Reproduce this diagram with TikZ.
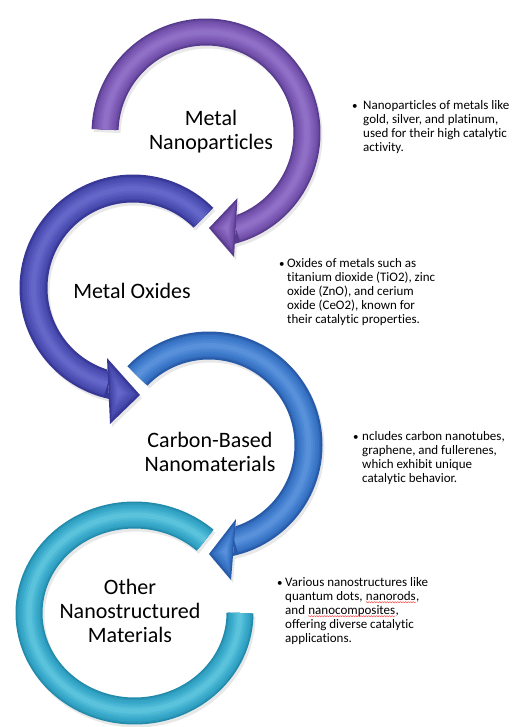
\documentclass[tikz,border=0pt]{standalone}
\usepackage{fontspec}
\setmainfont{Carlito}[Ligatures={NoCommon}]
\usetikzlibrary{decorations.pathmorphing}
\definecolor{pA}{HTML}{583A8E}
\definecolor{pB}{HTML}{7A58B4}
\definecolor{pC}{HTML}{9070C6}
\definecolor{iA}{HTML}{363796}
\definecolor{iB}{HTML}{4F51B6}
\definecolor{iC}{HTML}{6567C8}
\definecolor{bA}{HTML}{275AA8}
\definecolor{bB}{HTML}{3D7ACB}
\definecolor{bC}{HTML}{5891DA}
\definecolor{cA}{HTML}{228BAC}
\definecolor{cB}{HTML}{39AACB}
\definecolor{cC}{HTML}{5BC2DC}
\tikzset{
  lbl/.style={font=\fontsize{22}{24}\selectfont, align=center, inner sep=0pt, text=black},
  txt/.style={font=\fontsize{13}{14.3}\selectfont, inner sep=0pt, anchor=base west, text=black},
  bul/.style={font=\fontsize{11}{14}\selectfont, inner sep=0pt, anchor=base west, text=black},
  shd/.style={fill=black, opacity=0.09},
  wavy/.style={draw=red!75, line width=0.45pt, decorate, decoration={snake, amplitude=0.6pt, segment length=2.6pt}},
}
\begin{document}
\begin{tikzpicture}[x=1pt,y=-1pt]
\useasboundingbox (0,0) rectangle (512,727);
\fill[white] (0,0) rectangle (512,727);

% ---------- shadows ----------
\begin{scope}[shift={(2,3)}]
\fill[shd] plot[domain=182:435.5, samples=100] ({206+114.5*cos(\x)},{133+114.5*sin(\x)})
  -- plot[domain=429.6:182, samples=100] ({206+87.5*cos(\x)},{133+87.5*sin(\x)}) -- cycle;
\fill[shd] (237.5,198) -- (209,228) -- (234,257) -- cycle;
\fill[shd] plot[domain=-45:-257.8, samples=100] ({133+113.5*cos(\x)},{288+113.5*sin(\x)})
  -- plot[domain=-252.7:-45, samples=100] ({133+85.5*cos(\x)},{288+85.5*sin(\x)}) -- cycle;
\fill[shd] (107,358) -- (140,395) -- (110,424) -- cycle;
\fill[shd] plot[domain=-136:77.8, samples=100] ({209+113.5*cos(\x)},{445+113.5*sin(\x)})
  -- plot[domain=72:-136, samples=100] ({209+85.5*cos(\x)},{445+85.5*sin(\x)}) -- cycle;
\fill[shd] (236,519) -- (209,554) -- (231,580) -- cycle;
\draw[black, opacity=0.09, line width=27pt] plot[domain=-48:-360, samples=120] ({134.5+105.5*cos(\x)},{613+98*sin(\x)});
\end{scope}

% ---------- ring 4 : cyan ----------
\foreach \w/\c in {27/cA, 24/cB!45!cA, 21/cB!80!cA, 17/cB, 13/cC!35!cB, 9/cC!65!cB, 5/cC}
  \draw[color=\c, line width=\w pt] plot[domain=-48:-360, samples=120] ({134.5+105.5*cos(\x)},{613+98*sin(\x)});

% ---------- ring 3 : blue ----------
\fill[bA] plot[domain=-136:77.8, samples=100] ({209+113.5*cos(\x)},{445+113.5*sin(\x)})
  -- plot[domain=72:-136, samples=100] ({209+85.5*cos(\x)},{445+85.5*sin(\x)}) -- cycle;
\foreach \w/\c in {24/bB!45!bA, 21/bB!80!bA, 17/bB, 13/bC!35!bB, 9/bC!65!bB, 5/bC}
  \draw[color=\c, line width=\w pt] plot[domain=-136:75, samples=100] ({209+99.5*cos(\x)},{445+99.5*sin(\x)});
\foreach \s/\c in {1/bA, 0.86/bB!45!bA, 0.74/bB!80!bA, 0.6/bB, 0.46/bC!35!bB, 0.32/bC!65!bB, 0.18/bC}
  \fill[color=\c, scale around={\s:(225.33,551)}] (236,519) -- (209,554) -- (231,580) -- cycle;

% ---------- ring 2 : indigo ----------
\fill[iA] plot[domain=-45:-257.8, samples=100] ({133+113.5*cos(\x)},{288+113.5*sin(\x)})
  -- plot[domain=-252.7:-45, samples=100] ({133+85.5*cos(\x)},{288+85.5*sin(\x)}) -- cycle;
\foreach \w/\c in {24/iB!45!iA, 21/iB!80!iA, 17/iB, 13/iC!35!iB, 9/iC!65!iB, 5/iC}
  \draw[color=\c, line width=\w pt] plot[domain=-45:-255, samples=100] ({133+99.5*cos(\x)},{288+99.5*sin(\x)});
\foreach \s/\c in {1/iA, 0.86/iB!45!iA, 0.74/iB!80!iA, 0.6/iB, 0.46/iC!35!iB, 0.32/iC!65!iB, 0.18/iC}
  \fill[color=\c, scale around={\s:(119,392.33)}] (107,358) -- (140,395) -- (110,424) -- cycle;

% ---------- ring 1 : purple ----------
\fill[pA] plot[domain=182:435.5, samples=100] ({206+114.5*cos(\x)},{133+114.5*sin(\x)})
  -- plot[domain=429.6:182, samples=100] ({206+87.5*cos(\x)},{133+87.5*sin(\x)}) -- cycle;
\foreach \w/\c in {24/pB!45!pA, 21/pB!80!pA, 17/pB, 13/pC!35!pB, 9/pC!65!pB, 5/pC}
  \draw[color=\c, line width=\w pt] plot[domain=182:432.5, samples=100] ({206+101*cos(\x)},{133+101*sin(\x)});
\foreach \s/\c in {1/pA, 0.86/pB!45!pA, 0.74/pB!80!pA, 0.6/pB, 0.46/pC!35!pB, 0.32/pC!65!pB, 0.18/pC}
  \fill[color=\c, scale around={\s:(226.83,227.67)}] (237.5,198) -- (209,228) -- (234,257) -- cycle;

% ---------- ring labels ----------
\node[lbl] (l1) at (211,132) {Metal\\Nanoparticles};
\node[lbl] (l2) at (132,291) {Metal Oxides};
\node[lbl] (l3) at (210,452) {Carbon-Based\\Nanomaterials};
\node[lbl] (l4) at (130,611) {Other\\Nanostructured\\Materials};

% ---------- block 1 ----------
\node[bul] (b1) at (352,110) {\textbullet};
\node[txt] (t1a) at (363,110) {Nanoparticles of metals like};
\node[txt] (t1b) at (363,124) {gold, silver, and platinum,};
\node[txt] (t1c) at (363,138) {used for their high catalytic};
\node[txt] (t1d) at (363,152) {activity.};

% ---------- block 2 ----------
\node[bul] (b2) at (279,267) {\textbullet};
\node[txt] (t2a) at (287,267) {Oxides of metals such as};
\node[txt] (t2b) at (287,281) {titanium dioxide (TiO2), zinc};
\node[txt] (t2c) at (287,295) {oxide (ZnO), and cerium};
\node[txt] (t2d) at (287,309) {oxide (CeO2), known for};
\node[txt] (t2e) at (287,323) {their catalytic properties.};

% ---------- block 3 ----------
\node[bul] (b3) at (353,440) {\textbullet};
\node[txt] (t3a) at (362,440) {ncludes carbon nanotubes,};
\node[txt] (t3b) at (362,454) {graphene, and fullerenes,};
\node[txt] (t3c) at (362,468) {which exhibit unique};
\node[txt] (t3d) at (362,482) {catalytic behavior.};

% ---------- block 4 ----------
\node[bul] (b4) at (277,586) {\textbullet};
\node[txt] (t4a) at (285,586) {Various nanostructures like};
\node[txt] (t4b1) at (285,600) {quantum dots,};
\node[txt] (t4b2) at ([xshift=2.9pt]t4b1.base east) {nanorods};
\node[txt] (t4b3) at (t4b2.base east) {,};
\node[txt] (t4c1) at (285,614) {and};
\node[txt] (t4c2) at ([xshift=2.9pt]t4c1.base east) {nanocomposites};
\node[txt] (t4c3) at (t4c2.base east) {,};
\node[txt] (t4d) at (285,628) {offering diverse catalytic};
\node[txt] (t4e) at (285,642) {applications.};
\draw[wavy] ([yshift=-2.2pt]t4b2.base west) -- ([yshift=-2.2pt]t4b2.base east);
\draw[wavy] ([yshift=-2.2pt]t4c2.base west) -- ([yshift=-2.2pt]t4c2.base east);
\end{tikzpicture}
\end{document}
